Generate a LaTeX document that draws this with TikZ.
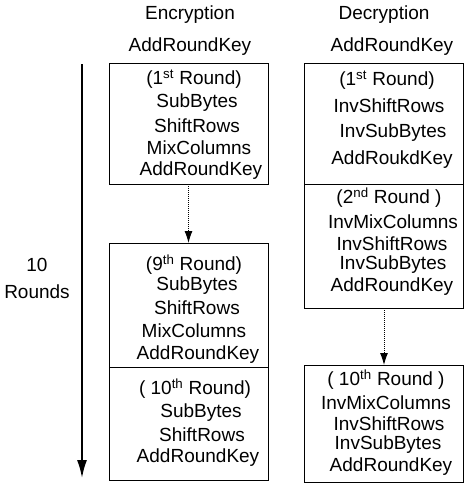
\documentclass[tikz,border=0pt]{standalone}
\usepackage{fontspec}
\setmainfont{Liberation Sans}
\usetikzlibrary{arrows.meta}

\begin{document}
\begin{tikzpicture}[x=1pt,y=-1pt,
  every node/.style={font=\fontsize{19}{22}\selectfont,inner sep=0pt},
  box/.style={draw,line width=1pt,minimum width=159pt,outer sep=0pt}]
  \useasboundingbox (0,0) rectangle (474,485);
  % column titles
  \node at (190,15) (enc) {Encryption};
  \node at (384,15) (dec) {Decryption};
  \node at (190,47) (ek0) {AddRoundKey};
  \node at (392,47) (dk0) {AddRoundKey};
  % encryption boxes
  \node[box,minimum height=121pt] at (188.5,123.5) (e1) {};
  \node[box,minimum height=124pt] at (188.5,305) (e9) {};
  \node[box,minimum height=113pt] at (188.5,423.5) (e10) {};
  \node at (194,79) (e1a) {(1\textsuperscript{st} Round)};
  \node at (197,103) (e1b) {SubBytes};
  \node at (197,126) (e1c) {ShiftRows};
  \node at (199,148) (e1d) {MixColumns};
  \node at (201,171) (e1e) {AddRoundKey};
  \node at (194,265) (e9a) {(9\textsuperscript{th} Round)};
  \node at (197,286) (e9b) {SubBytes};
  \node at (197,308) (e9c) {ShiftRows};
  \node at (194,331) (e9d) {MixColumns};
  \node at (198,355) (e9e) {AddRoundKey};
  \node at (195,389) (e10a) {( 10\textsuperscript{th} Round)};
  \node at (201,413) (e10b) {SubBytes};
  \node at (202,435) (e10c) {ShiftRows};
  \node at (198,458) (e10d) {AddRoundKey};
  % decryption boxes
  \node[box,minimum height=121pt] at (384,123.5) (d1) {};
  \node[box,minimum height=124pt] at (384,246) (d2) {};
  \node[box,minimum height=117pt] at (384,423.5) (d10) {};
  \node at (387,80) (d1a) {(1\textsuperscript{st} Round)};
  \node at (389,106) (d1b) {InvShiftRows};
  \node at (393,133) (d1c) {InvSubBytes};
  \node at (392,160) (d1d) {AddRoukdKey};
  \node at (389,198) (d2a) {(2\textsuperscript{nd} Round )};
  \node at (393,222) (d2b) {InvMixColumns};
  \node at (392,244) (d2c) {InvShiftRows};
  \node at (393,265) (d2d) {InvSubBytes};
  \node at (392,287) (d2e) {AddRoundKey};
  \node at (386,380) (d10a) {( 10\textsuperscript{th} Round )};
  \node at (386,403) (d10b) {InvMixColumns};
  \node at (389,424) (d10c) {InvShiftRows};
  \node at (388,445) (d10d) {InvSubBytes};
  \node at (391,467) (d10e) {AddRoundKey};
  % dotted links
  \draw[densely dotted,line width=1pt,-{Latex[length=12pt,width=8pt]}] (e1) -- (e9);
  \draw[densely dotted,line width=1pt,-{Latex[length=12pt,width=8pt]}] (d2) -- (d10);
  % rounds arrow
  \coordinate (r0) at (82,64);
  \coordinate (r1) at (82,478);
  \draw[line width=1.8pt,-{Latex[length=18pt,width=10pt]}] (r0) -- (r1);
  \node at (37,265) (n) {10};
  \node at (37,292) (rds) {Rounds};
\end{tikzpicture}
\end{document}
